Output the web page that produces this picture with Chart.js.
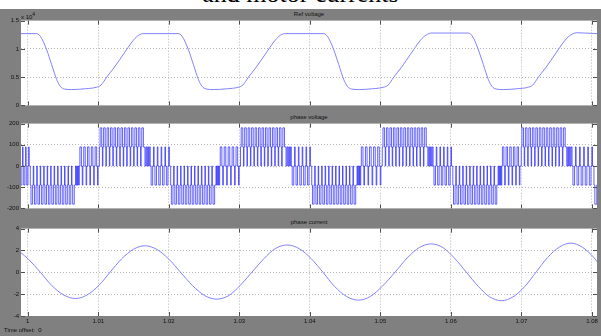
<!DOCTYPE html>
<html>
<head>
<meta charset="utf-8">
<script src="https://cdn.jsdelivr.net/npm/chart.js@4.4.1/dist/chart.umd.min.js"></script>
<style>
    html, body { margin: 0; padding: 0; }
    body { width: 601px; height: 336px; position: relative; overflow: hidden; background: #808080; font-family: "Liberation Sans", Arial, sans-serif; }
    #head { position: absolute; left: 0; top: 0; width: 601px; height: 9px; background: #fff; overflow: hidden; }
    #head span { position: absolute; left: 0; width: 601px; top: -21px; text-align: center; font: 26px "Liberation Serif", serif; color: #000; white-space: nowrap; }
    .ttl { position: absolute; left: 21px; width: 576px; text-align: center; font-size: 6px; line-height: 7px; color: #111; }
    .box { position: absolute; left: 0; width: 601px; }
    #expo { position: absolute; left: 21px; top: 11px; font-size: 6px; line-height: 6px; color: #111; }
    #expo sup { font-size: 5px; vertical-align: 3px; }
    #offset { position: absolute; left: 4px; top: 327px; font-size: 6px; line-height: 7px; color: #111; }
</style>
</head>
<body>
<div id="head"><span>and motor currents</span></div>
<div class="ttl" style="top:11px">Ref voltage</div>
<div id="expo">x 10<sup>4</sup></div>
<div class="box" style="top:15px;height:96px"><canvas id="refChart"></canvas></div>
<div class="ttl" style="top:114px">phase voltage</div>
<div class="box" style="top:118px;height:96px"><canvas id="phaseChart"></canvas></div>
<div class="ttl" style="top:219px">phase current</div>
<div class="box" style="top:223px;height:105px"><canvas id="curChart"></canvas></div>
<div id="offset">Time offset:&nbsp;&nbsp;0</div>

<script>
// --- time axis ---
const tMin = 0.99905;
const tMax = 1.08071;
const xTicks = [1, 1.01, 1.02, 1.03, 1.04, 1.05, 1.06, 1.07, 1.08];

// --- Ref voltage (x10^4) ---
const refTicks = [0, 0.5, 1, 1.5];
const refTime = [
    0.9990, 1.0012, 1.0016, 1.0020, 1.0027, 1.0034, 1.0041, 1.0046, 1.0052, 1.0062, 1.0082, 1.0097,
    1.0104, 1.0112, 1.0122, 1.0130, 1.0142, 1.0149, 1.0155, 1.0160, 1.0165,
    1.0213, 1.0217, 1.0221, 1.0228, 1.0235, 1.0242, 1.0247, 1.0253, 1.0263, 1.0283, 1.0298,
    1.0305, 1.0313, 1.0323, 1.0331, 1.0343, 1.0350, 1.0356, 1.0361, 1.0366,
    1.0419, 1.0423, 1.0427, 1.0434, 1.0441, 1.0448, 1.0453, 1.0459, 1.0469, 1.0489, 1.0504,
    1.0511, 1.0519, 1.0529, 1.0537, 1.0549, 1.0556, 1.0562, 1.0567, 1.0572,
    1.0624, 1.0628, 1.0632, 1.0639, 1.0646, 1.0653, 1.0658, 1.0664, 1.0674, 1.0694, 1.0709,
    1.0716, 1.0724, 1.0734, 1.0742, 1.0754, 1.0761, 1.0767, 1.0772, 1.0778, 1.0790, 1.0808
];
const refVolt = [
    1.27, 1.27, 1.25, 1.18, 0.98, 0.72, 0.46, 0.34, 0.29, 0.28, 0.295, 0.32,
    0.36, 0.50, 0.66, 0.80, 1.02, 1.14, 1.22, 1.26, 1.27,
    1.27, 1.25, 1.18, 0.98, 0.72, 0.46, 0.34, 0.29, 0.28, 0.295, 0.32,
    0.36, 0.50, 0.66, 0.80, 1.02, 1.14, 1.22, 1.26, 1.27,
    1.27, 1.25, 1.18, 0.98, 0.72, 0.46, 0.34, 0.29, 0.28, 0.295, 0.32,
    0.36, 0.50, 0.66, 0.80, 1.02, 1.14, 1.22, 1.26, 1.28,
    1.28, 1.26, 1.19, 0.98, 0.72, 0.46, 0.34, 0.29, 0.28, 0.295, 0.32,
    0.36, 0.50, 0.66, 0.80, 1.02, 1.14, 1.22, 1.26, 1.285, 1.28, 1.27
];

// --- phase voltage: switching segments ---
const phaseTicks = [-200, -100, 0, 100, 200];
const pvEdges = [
    0.9990, 1.0003, 1.0067, 1.0074, 1.0101, 1.0165, 1.0175,
    1.0202, 1.0266, 1.0273, 1.0301, 1.0365, 1.0375,
    1.0402, 1.0466, 1.0473, 1.0502, 1.0566, 1.0576,
    1.0602, 1.0666, 1.0673, 1.0699, 1.0763, 1.0773,
    1.0802, 1.0808
];
const pvKind = [
    'dn', 'bot', 'lo', 'up', 'top', 'hi',
    'dn', 'bot', 'lo', 'up', 'top', 'hi',
    'dn', 'bot', 'lo', 'up', 'top', 'hi',
    'dn', 'bot', 'lo', 'up', 'top', 'hi',
    'dn', 'bot'
];
const pvPulses = [
    3, 13, 2, 5, 13, 2,
    5, 13, 2, 5, 13, 2,
    5, 13, 2, 5, 13, 2,
    5, 13, 2, 5, 13, 2,
    5, 1
];
// levels visited within one switching period, and share of the period at each
const pvLevels = {
    bot: [0, -90, -180, -90], top: [0, 90, 180, 90],
    lo: [-90, 0, -90, 0],     hi: [90, 0, 90, 0],
    up: [90, 0, -90, 0],      dn: [-90, 0, 90, 0]
};
const pvShare = {
    bot: [0.14, 0.2, 0.46, 0.2], top: [0.14, 0.2, 0.46, 0.2],
    lo: [0.25, 0.25, 0.25, 0.25], hi: [0.25, 0.25, 0.25, 0.25],
    up: [0.4, 0.22, 0.16, 0.22],  dn: [0.4, 0.22, 0.16, 0.22]
};

// --- phase current ---
const curTicks = [-4, -2, 0, 2, 4];
const curTime = [
    0.9990, 1.0001, 1.0018, 1.0034, 1.0051, 1.0068,
    1.0084, 1.0101, 1.0117, 1.0133, 1.0150, 1.0166,
    1.0183, 1.0200, 1.0217, 1.0234, 1.0251, 1.0268,
    1.0285, 1.0301, 1.0318, 1.0335, 1.0351, 1.0368,
    1.0385, 1.0402, 1.0419, 1.0435, 1.0452, 1.0469,
    1.0486, 1.0503, 1.0521, 1.0538, 1.0555, 1.0572,
    1.0589, 1.0605, 1.0622, 1.0639, 1.0655, 1.0672,
    1.0688, 1.0705, 1.0721, 1.0737, 1.0754, 1.0770,
    1.0786, 1.0803, 1.0808
];
const curVal = [
    1.82, 1.20, 0.00, -1.20, -2.08, -2.40,
    -2.08, -1.19, 0.02, 1.22, 2.11, 2.43,
    2.10, 1.21, -0.02, -1.24, -2.13, -2.46,
    -2.13, -1.22, 0.02, 1.26, 2.17, 2.50,
    2.16, 1.24, -0.03, -1.29, -2.21, -2.55,
    -2.20, -1.26, 0.03, 1.31, 2.26, 2.60,
    2.25, 1.30, 0.00, -1.30, -2.25, -2.60,
    -2.25, -1.28, 0.04, 1.35, 2.32, 2.67,
    2.31, 1.33, 0.92
];

const zip = (xs, ys) => xs.map((x, i) => ({ x: x, y: ys[i] }));

const buildPhase = () => {
    const pts = [];
    pvKind.forEach((kind, i) => {
        const t0 = pvEdges[i];
        const period = (pvEdges[i + 1] - t0) / pvPulses[i];
        for (let p = 0; p < pvPulses[i]; p++) {
            let t = t0 + p * period;
            pvLevels[kind].forEach((lvl, j) => {
                pts.push({ x: t, y: lvl });
                t += pvShare[kind][j] * period;
            });
        }
    });
    pts.push({ x: pvEdges[pvEdges.length - 1], y: pts[pts.length - 1].y });
    return pts;
};

// white plot area + inward scope ticks on all four sides
const scopeFrame = {
    id: 'scopeFrame',
    beforeDraw(chart) {
        const { ctx, chartArea: a } = chart;
        ctx.save();
        ctx.fillStyle = '#ffffff';
        ctx.fillRect(a.left, a.top, a.right - a.left, a.bottom - a.top);
        ctx.restore();
    },
    afterDraw(chart) {
        const { ctx, chartArea: a, scales } = chart;
        ctx.save();
        ctx.strokeStyle = '#505050';
        ctx.lineWidth = 1;
        ctx.beginPath();
        scales.x.ticks.forEach(tk => {
            const px = Math.round(scales.x.getPixelForValue(tk.value)) + 0.5;
            ctx.moveTo(px, a.top); ctx.lineTo(px, a.top + 4);
            ctx.moveTo(px, a.bottom); ctx.lineTo(px, a.bottom - 4);
        });
        scales.y.ticks.forEach(tk => {
            const py = Math.round(scales.y.getPixelForValue(tk.value)) + 0.5;
            ctx.moveTo(a.left, py); ctx.lineTo(a.left + 4, py);
            ctx.moveTo(a.right, py); ctx.lineTo(a.right - 4, py);
        });
        ctx.stroke();
        ctx.restore();
    }
};

const makeScope = (id, data, yTicks, opts) => {
    const yMin = yTicks[0];
    const yMax = yTicks[yTicks.length - 1];
    return new Chart(document.getElementById(id), {
        type: 'line',
        data: {
            datasets: [{
                data: data,
                borderColor: opts.color,
                borderWidth: 1,
                pointRadius: 0,
                fill: false,
                stepped: opts.stepped || false,
                cubicInterpolationMode: opts.stepped ? 'default' : 'monotone'
            }]
        },
        options: {
            responsive: true,
            maintainAspectRatio: false,
            animation: false,
            events: [],
            layout: { padding: { left: 0, right: 4, top: 4, bottom: opts.showX ? 0 : 4 } },
            plugins: { legend: { display: false }, tooltip: { enabled: false } },
            scales: {
                x: {
                    type: 'linear',
                    min: tMin,
                    max: tMax,
                    afterBuildTicks: s => { s.ticks = xTicks.map(v => ({ value: v })); },
                    afterFit: s => { s.height = opts.showX ? 12 : 0; },
                    ticks: {
                        display: opts.showX,
                        autoSkip: false,
                        maxRotation: 0,
                        padding: 2,
                        color: '#111',
                        font: { size: 6, family: 'Liberation Sans' },
                        callback: v => String(Number(v.toFixed(2)))
                    },
                    grid: { color: '#b4b4b4', lineWidth: 1, drawTicks: false },
                    border: { display: false, dash: [1, 2] }
                },
                y: {
                    min: yMin,
                    max: yMax,
                    afterBuildTicks: s => { s.ticks = yTicks.map(v => ({ value: v })); },
                    afterFit: s => { s.width = 21; },
                    ticks: {
                        autoSkip: false,
                        padding: 2,
                        color: '#111',
                        font: { size: 6, family: 'Liberation Sans' },
                        callback: v => String(v)
                    },
                    grid: {
                        color: c => (c.tick && (c.tick.value === yMin || c.tick.value === yMax)) ? 'rgba(0,0,0,0)' : '#b4b4b4',
                        lineWidth: 1,
                        drawTicks: false
                    },
                    border: { display: false, dash: [1, 2] }
                }
            }
        },
        plugins: [scopeFrame]
    });
};

makeScope('refChart', zip(refTime, refVolt), refTicks, { color: '#8282ff', showX: false });
makeScope('phaseChart', buildPhase(), phaseTicks, { color: 'rgba(45,45,255,0.75)', showX: false, stepped: 'before' });
makeScope('curChart', zip(curTime, curVal), curTicks, { color: '#8282ff', showX: true });
</script>
</body>
</html>
